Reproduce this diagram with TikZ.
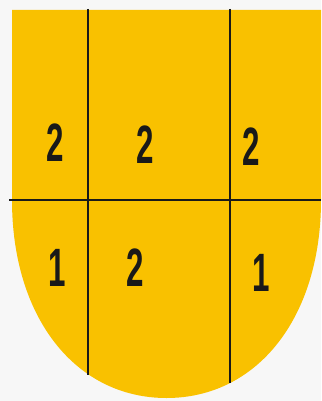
\documentclass[tikz,border=0pt]{standalone}
\usepackage{fontspec}
\setmainfont{Liberation Sans}
\usetikzlibrary{positioning}
\definecolor{shieldgold}{RGB}{249,193,0}
\definecolor{paper}{RGB}{247,247,247}

\begin{document}
\begin{tikzpicture}[x=1pt,y=-1pt,
  num/.style={font=\fontsize{54}{54}\selectfont\bfseries,xscale=0.58,
              inner sep=0pt,text=black!90},
  rule/.style={line width=2.4pt,black!90}]
\fill[paper] (0,0) rectangle (321,401);
\useasboundingbox (0,0) rectangle (321,401);
% shield
\fill[shieldgold] (12,10) -- (321,10) -- (321,200)
  .. controls (321,318) and (257,398) .. (166.5,398)
  .. controls (76,398) and (12,318) .. (12,200) -- cycle;
% dividing lines
\draw[rule] (9,200) -- (321,200);
\draw[rule] (88,9) -- (88,375);
\draw[rule] (230,9) -- (230,383);
% numbers
\node[num] (tl) at (55,143) {2};
\node[num] (tm) at (145,145) {2};
\node[num] (tr) at (251,147) {2};
\node[num] (bl) at (57,268) {1};
\node[num] (bm) at (135,268) {2};
\node[num] (br) at (261,273) {1};
\end{tikzpicture}
\end{document}
